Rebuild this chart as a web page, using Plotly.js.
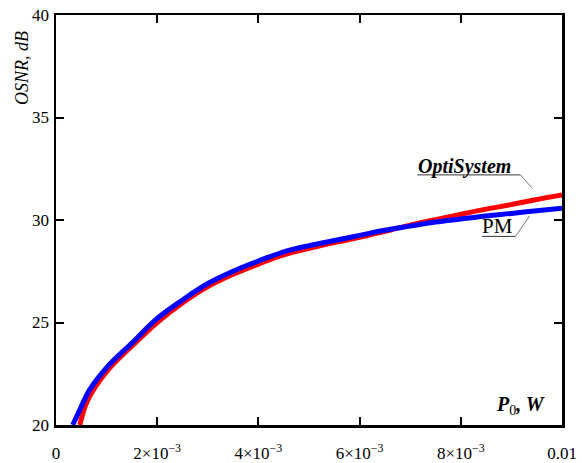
<!DOCTYPE html>
<html><head><meta charset="utf-8">
<script src="https://cdn.plot.ly/plotly-3.0.1.min.js"></script>
<style>html,body{margin:0;padding:0;background:#fff}#chart{width:582px;height:463px}</style>
</head><body><div id="chart"></div>
<script>
// Power P0 (W) and OSNR (dB)
var pmP = [0.33e-3,0.5e-3,0.66e-3,1.0e-3,1.5e-3,2.0e-3,2.5e-3,3.0e-3,3.5e-3,4.0e-3,4.5e-3,5.0e-3,5.5e-3,6.0e-3,6.5e-3,7.0e-3,7.5e-3,8.0e-3,8.5e-3,9.0e-3,9.5e-3,10.0e-3];
var pmOSNR = [20.0,20.9,21.7,22.8,24.0,25.2,26.1,26.9,27.5,28.0,28.45,28.75,29.0,29.25,29.5,29.7,29.9,30.05,30.2,30.32,30.45,30.57];
var osP = [0.47e-3,0.625e-3,1.0e-3,1.5e-3,2.0e-3,2.5e-3,3.0e-3,3.5e-3,4.0e-3,4.5e-3,5.0e-3,5.5e-3,6.0e-3,6.5e-3,7.0e-3,7.5e-3,8.0e-3,8.5e-3,9.0e-3,9.5e-3,10.0e-3];
var osOSNR = [20.0,21.2,22.6,23.85,25.0,25.95,26.75,27.35,27.85,28.3,28.62,28.9,29.15,29.45,29.75,30.02,30.28,30.53,30.75,31.0,31.22];
var xTickVals = [0,0.002,0.004,0.006,0.008,0.01];
var xTickText = ['0','2\u00d710<sup>\u22123</sup>','4\u00d710<sup>\u22123</sup>','6\u00d710<sup>\u22123</sup>','8\u00d710<sup>\u22123</sup>','0.01'];
var yTickVals = [20,25,30,35,40];

var traces = [
  {x: osP, y: osOSNR, mode:'lines', line:{color:'#ff0000', width:5, shape:'spline'}, hoverinfo:'skip'},
  {x: pmP, y: pmOSNR, mode:'lines', line:{color:'#0000ff', width:5, shape:'spline'}, hoverinfo:'skip'}
];
var tickFont = {family:'Liberation Serif, serif', size:17, color:'#000'};
var layout = {
  width:582, height:463,
  margin:{l:56, r:20, t:15, b:38},
  showlegend:false,
  paper_bgcolor:'#fff', plot_bgcolor:'#fff',
  xaxis:{range:[0,0.01], tickvals:xTickVals, ticktext:xTickText, ticks:'inside', ticklen:8, tickwidth:2, tickcolor:'#000',
         showline:true, linecolor:'#000', linewidth:2.5, mirror:'ticks', showgrid:false, zeroline:false, tickfont:tickFont, ticklabelstandoff:11},
  yaxis:{range:[20,40], tickvals:yTickVals, ticks:'inside', ticklen:8, tickwidth:2, tickcolor:'#000',
         showline:true, linecolor:'#000', linewidth:2.5, mirror:'ticks', showgrid:false, zeroline:false, tickfont:tickFont, ticklabelstandoff:1},
  annotations:[
    {xref:'paper', yref:'paper', x:-0.066, y:0.965, xanchor:'center', yanchor:'top', text:'<i>OSNR, dB</i>', textangle:-90, showarrow:false,
     font:{family:'Liberation Serif, serif', size:18, color:'#000'}},
    {xref:'x', yref:'y', x:0.0097, y:20.95, xanchor:'right', yanchor:'middle', text:'<b><i>P</i></b><sub>0</sub><b><i>, W</i></b>', showarrow:false,
     font:{family:'Liberation Serif, serif', size:20, color:'#000'}},
    {xref:'x', yref:'y', x:0.00711, y:32.62, xanchor:'left', yanchor:'middle', text:'<b><i>OptiSystem</i></b>', showarrow:false,
     font:{family:'Liberation Serif, serif', size:20, color:'#000'}},
    {xref:'x', yref:'y', x:0.00838, y:29.7, xanchor:'left', yanchor:'middle', text:'PM', showarrow:false,
     font:{family:'Liberation Serif, serif', size:21, color:'#000'}}
  ],
  shapes:[
    {type:'line', xref:'x', yref:'y', x0:0.00714, x1:0.00918, y0:32.2, y1:32.2, line:{color:'#333', width:1}},
    {type:'line', xref:'x', yref:'y', x0:0.00918, x1:0.00941, y0:32.2, y1:31.55, line:{color:'#777', width:1}},
    {type:'line', xref:'x', yref:'y', x0:0.00842, x1:0.00908, y0:29.2, y1:29.2, line:{color:'#333', width:1}},
    {type:'line', xref:'x', yref:'y', x0:0.00908, x1:0.00936, y0:29.2, y1:30.2, line:{color:'#777', width:1}}
  ]
};
Plotly.newPlot('chart', traces, layout, {displayModeBar:false, staticPlot:true});
</script></body></html>
